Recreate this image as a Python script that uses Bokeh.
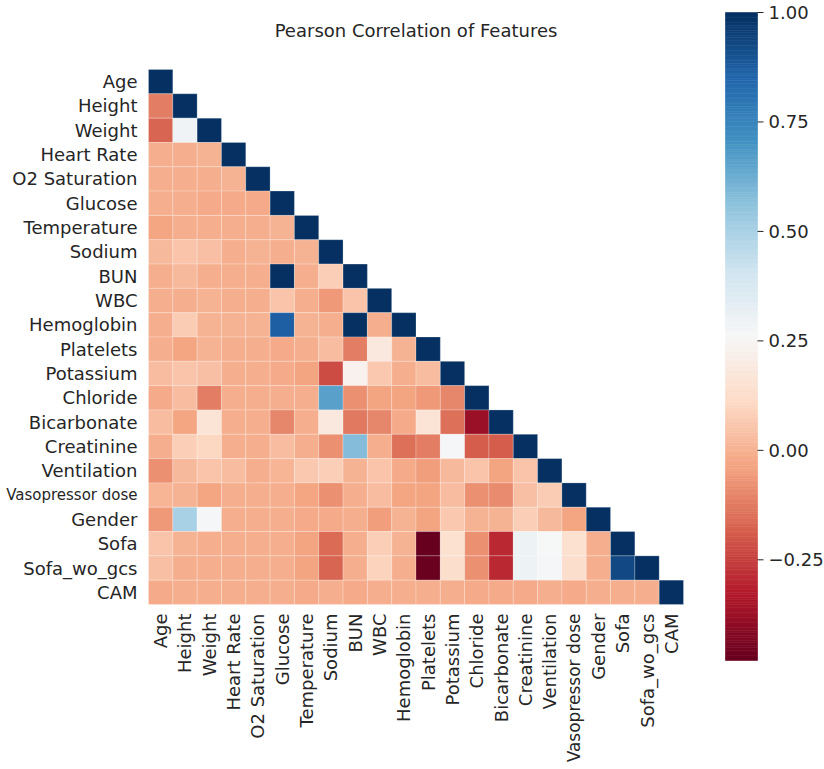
import numpy as np
from bokeh.plotting import figure
from bokeh.models import ColumnDataSource, LinearColorMapper, Range1d
from bokeh.core.properties import value
from bokeh.embed import file_html
from bokeh.resources import INLINE

# Feature names (rows and columns of the correlation matrix)
features = ["Age", "Height", "Weight", "Heart Rate", "O2 Saturation", "Glucose",
            "Temperature", "Sodium", "BUN", "WBC", "Hemoglobin", "Platelets",
            "Potassium", "Chloride", "Bicarbonate", "Creatinine", "Ventilation",
            "Vasopressor dose", "Gender", "Sofa", "Sofa_wo_gcs", "CAM"]

# Lower triangle of the Pearson correlation matrix, one list per row (diagonal included)
age_row = [1.0]
height_row = [-0.12, 1.0]
weight_row = [-0.17, 0.29, 1.0]
heart_rate_row = [-0.01, -0.01, 0.0, 1.0]
o2_row = [-0.01, -0.01, -0.01, 0.0, 1.0]
glucose_row = [-0.01, -0.01, -0.02, -0.02, -0.02, 1.0]
temperature_row = [-0.03, -0.01, -0.01, -0.01, -0.01, 0.0, 1.0]
sodium_row = [0.02, 0.05, 0.04, -0.01, 0.0, -0.01, 0.0, 1.0]
bun_row = [-0.01, 0.02, -0.01, -0.01, -0.01, 1.0, -0.01, 0.08, 1.0]
wbc_row = [-0.01, -0.01, 0.0, -0.01, -0.01, 0.05, -0.01, -0.06, 0.05, 1.0]
hemoglobin_row = [-0.01, 0.07, 0.0, 0.0, 0.0, 0.87, 0.0, -0.01, 1.0, -0.01, 1.0]
platelets_row = [-0.01, -0.03, 0.0, -0.01, -0.01, -0.02, -0.01, 0.03, -0.12, 0.18, 0.0, 1.0]
potassium_row = [0.03, 0.05, 0.04, -0.01, -0.01, -0.02, -0.04, -0.22, 0.23, 0.06, -0.01, 0.03, 1.0]
chloride_row = [-0.02, 0.03, -0.12, -0.01, -0.01, -0.01, -0.01, 0.66, -0.08, -0.04, -0.04,
                -0.06, -0.10, 1.0]
bicarbonate_row = [0.03, -0.03, 0.16, -0.01, -0.01, -0.10, -0.01, 0.18, -0.13, -0.10, -0.02,
                   0.16, -0.15, -0.38, 1.0]
creatinine_row = [-0.01, 0.08, 0.10, -0.01, -0.01, 0.03, -0.01, -0.08, 0.58, -0.01, -0.15,
                  -0.12, 0.27, -0.19, -0.19, 1.0]
ventilation_row = [-0.08, 0.02, 0.05, 0.03, -0.01, 0.01, 0.06, 0.08, 0.0, 0.05, -0.02,
                   -0.05, 0.02, 0.05, -0.04, 0.05, 1.0]
vasopressor_row = [0.01, 0.0, -0.03, -0.01, -0.01, -0.01, -0.03, -0.08, -0.01, 0.03, -0.03,
                   -0.04, 0.03, -0.08, -0.09, 0.04, 0.07, 1.0]
gender_row = [-0.06, 0.50, 0.27, -0.01, -0.01, -0.01, -0.02, -0.02, -0.01, -0.05, 0.0,
              -0.04, 0.06, 0.0, 0.0, 0.08, 0.02, -0.03, 1.0]
sofa_row = [0.05, 0.0, -0.01, -0.01, -0.01, -0.01, -0.04, -0.16, -0.01, 0.08, 0.0,
            -0.48, 0.14, -0.08, -0.30, 0.30, 0.26, 0.14, -0.01, 1.0]
sofa_wo_gcs_row = [0.04, -0.01, -0.01, -0.01, -0.01, -0.01, -0.04, -0.17, -0.01, 0.09, -0.01,
                   -0.47, 0.13, -0.08, -0.30, 0.30, 0.27, 0.13, -0.01, 0.93, 1.0]
cam_row = [-0.02, -0.01, -0.01, -0.01, -0.01, -0.01, -0.02, -0.01, -0.02, -0.01, -0.01,
           -0.01, -0.01, -0.02, -0.02, -0.02, -0.01, -0.02, -0.01, -0.01, -0.01, 1.0]

lower_rows = [age_row, height_row, weight_row, heart_rate_row, o2_row, glucose_row,
              temperature_row, sodium_row, bun_row, wbc_row, hemoglobin_row, platelets_row,
              potassium_row, chloride_row, bicarbonate_row, creatinine_row, ventilation_row,
              vasopressor_row, gender_row, sofa_row, sofa_wo_gcs_row, cam_row]

cbar_ticks = [-0.25, 0.0, 0.25, 0.5, 0.75, 1.0]

# RdBu diverging colormap, interpolated from the ColorBrewer anchors
anchors = ["#67001f", "#b2182b", "#d6604d", "#f4a582", "#fddbc7", "#f7f7f7",
           "#d1e5f0", "#92c5de", "#4393c3", "#2166ac", "#053061"]
rgb = np.array([[int(c[i:i + 2], 16) for i in (1, 3, 5)] for c in anchors], dtype=float)
pos = np.linspace(0, 1, len(anchors))
grid = np.linspace(0, 1, 256)
palette = ["#%02x%02x%02x" % tuple(int(round(np.interp(g, pos, rgb[:, k]))) for k in range(3))
           for g in grid]

n = len(features)
xs, ys, vals = [], [], []
for i, r in enumerate(lower_rows):
    for j, v in enumerate(r):
        xs.append(j + 0.5)
        ys.append(i + 0.5)
        vals.append(v)

vmin = min(vals)
vmax = max(vals)
mapper = LinearColorMapper(palette=palette, low=vmin, high=vmax)

FONT = "DejaVu Sans"
TXT = "#262626"
W, H = 824, 769
LEFT, TOP, SIDE = 148, 69, 535        # heatmap box in page pixels
CELL = SIDE / n
CB_LEFT, CB_W, CB_TOP, CB_H = 725, 32, 12, 648   # colour bar box in page pixels

# The longest name is set a little smaller so it stays inside the page
row_sizes = ["15px" if len(f) > 13 else "18px" for f in features]
col_sizes = ["17px" if len(f) > 13 else "18px" for f in features]

# One frame covering the whole page; x/y measured in cells, y pointing down
p = figure(width=W, height=H, output_backend="svg", toolbar_location=None,
           x_range=Range1d(-LEFT / CELL, (W - LEFT) / CELL),
           y_range=Range1d((H - TOP) / CELL, -TOP / CELL),
           x_axis_location=None, y_axis_location=None, min_border=0)
p.outline_line_color = None
p.xgrid.visible = False
p.ygrid.visible = False
p.background_fill_color = "white"
p.border_fill_color = "white"

# Value range for the colour bar, spanning the page height
k = (vmax - vmin) / CB_H
p.extra_y_ranges = {"cb": Range1d(vmin - (H - CB_TOP - CB_H) * k, vmax + CB_TOP * k)}

cells = ColumnDataSource(dict(x=xs, y=ys, v=vals))
p.rect(x="x", y="y", width=1, height=1, source=cells,
       fill_color={"field": "v", "transform": mapper},
       line_color="white", line_width=0.5, line_alpha=0.45)

# Row labels on the left
rl = ColumnDataSource(dict(x=[-11 / CELL] * n, y=[i + 0.5 for i in range(n)],
                           t=features, s=row_sizes))
p.text(x="x", y="y", text="t", source=rl, text_font_size="s",
       text_align="right", text_baseline="middle", text_font=value(FONT), text_color=TXT)

# Column labels underneath, rotated
cl = ColumnDataSource(dict(x=[j + 0.5 for j in range(n)], y=[n + 9 / CELL] * n,
                           t=features, s=col_sizes))
p.text(x="x", y="y", text="t", source=cl, text_font_size="s", angle=np.pi / 2,
       text_align="right", text_baseline="middle", text_font=value(FONT), text_color=TXT)

# Title
p.text(x=[n / 2], y=[-39 / CELL], text=["Pearson Correlation of Features"],
       text_align="center", text_baseline="middle", text_font=value(FONT),
       text_font_size=value("18px"), text_color=TXT)

# Colour bar gradient
x0 = (CB_LEFT - LEFT) / CELL
x1 = x0 + CB_W / CELL
edges = np.linspace(vmin, vmax, 257)
mids = (edges[:-1] + edges[1:]) / 2
cb_src = ColumnDataSource(dict(bottom=edges[:-1], top=edges[1:], v=mids))
p.quad(left=x0, right=x1, bottom="bottom", top="top", source=cb_src, y_range_name="cb",
       fill_color={"field": "v", "transform": mapper},
       line_color={"field": "v", "transform": mapper}, line_width=0.6)

# Colour bar ticks and labels
tick_labels = [("\u2212%.2f" % -t if t < 0 else "%.2f" % t) for t in cbar_ticks]
p.segment(x0=[x1] * len(cbar_ticks), x1=[x1 + 6 / CELL] * len(cbar_ticks),
          y0=cbar_ticks, y1=cbar_ticks, y_range_name="cb", line_color=TXT, line_width=1)
p.text(x=[x1 + 11 / CELL] * len(cbar_ticks), y=cbar_ticks, text=tick_labels,
       y_range_name="cb", text_align="left", text_baseline="middle", text_font=value(FONT),
       text_font_size=value("18px"), text_color=TXT)

open("out.html", "w").write(file_html(p, INLINE))
